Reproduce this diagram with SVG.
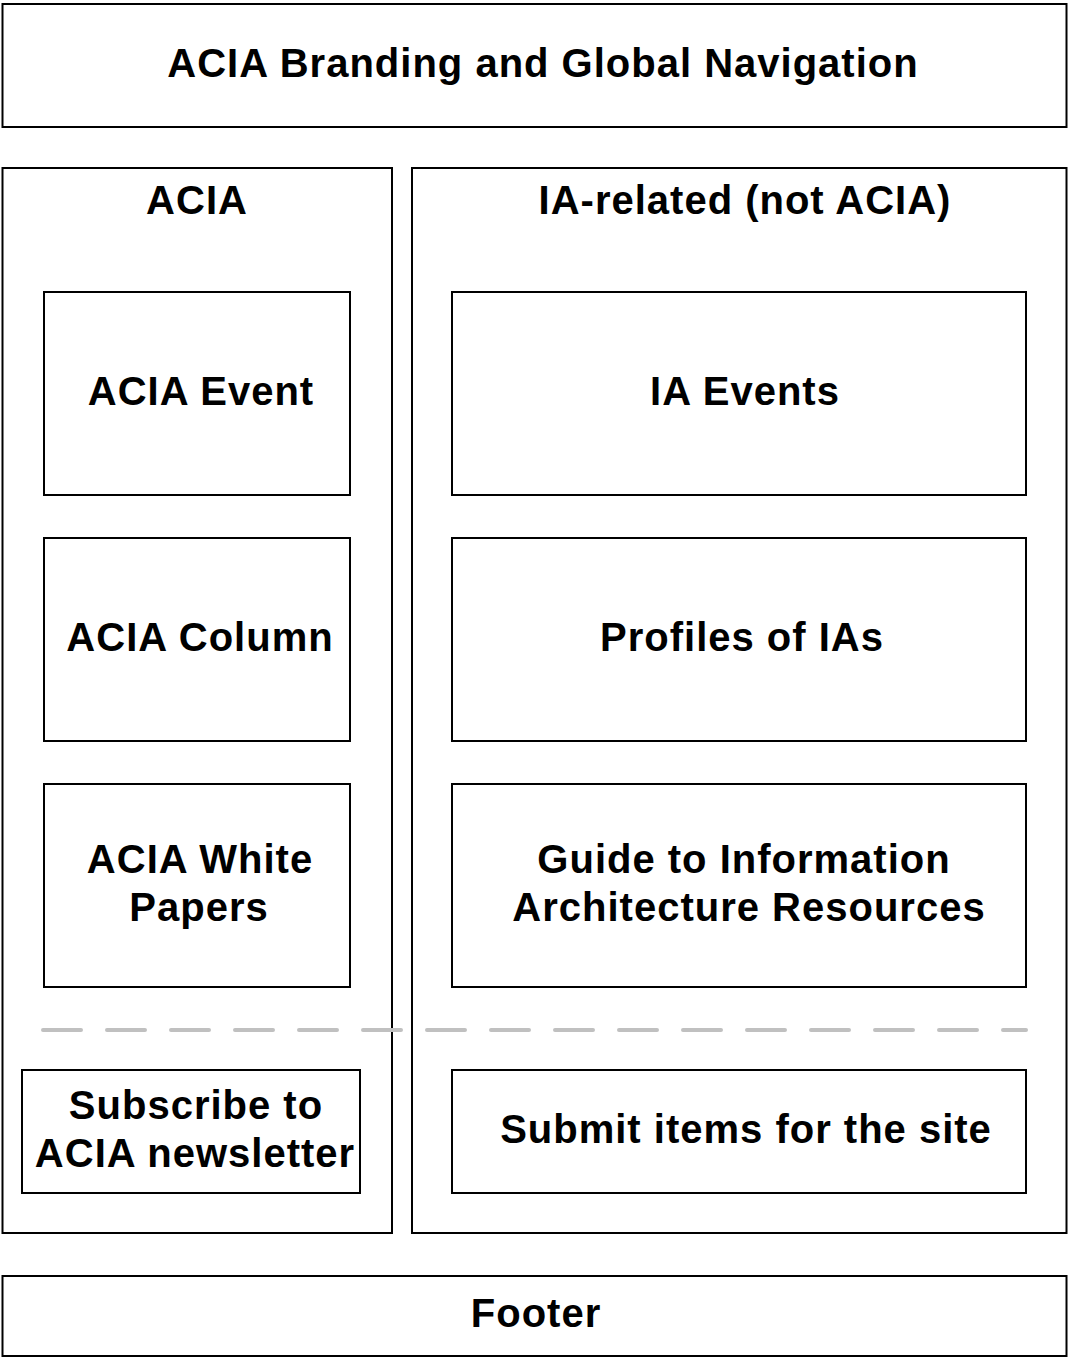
<svg xmlns="http://www.w3.org/2000/svg" width="1068" height="1358" viewBox="0 0 1068 1358">
<style>
.box{fill:#fff;stroke:#000;stroke-width:2}
.t{font-family:"Liberation Sans",Arial,sans-serif;font-weight:bold;font-size:40px;letter-spacing:1px;fill:#000;text-anchor:middle}
.dash{stroke:#c0c0c0;stroke-width:4;stroke-linecap:round;stroke-dasharray:38 26;fill:none}
</style>
<rect width="1068" height="1358" fill="#fff"/>
<g id="header"><rect class="box" x="2.5" y="4" width="1064" height="123"/><text class="t" x="543" y="77">ACIA Branding and Global Navigation</text></g>
<g id="acia-col"><rect class="box" x="2.5" y="168" width="389.5" height="1065"/><text class="t" x="197" y="214">ACIA</text></g>
<g id="ia-col"><rect class="box" x="412" y="168" width="654.5" height="1065"/><text class="t" x="745" y="214">IA-related (not ACIA)</text></g>
<g id="acia-event"><rect class="box" x="44" y="292" width="306" height="203"/><text class="t" x="201" y="405">ACIA Event</text></g>
<g id="acia-column"><rect class="box" x="44" y="538" width="306" height="203"/><text class="t" x="200" y="651">ACIA Column</text></g>
<g id="acia-white"><rect class="box" x="44" y="784" width="306" height="203"/><text class="t" x="200" y="873">ACIA White</text><text class="t" x="199" y="921">Papers</text></g>
<g id="ia-events"><rect class="box" x="452" y="292" width="574" height="203"/><text class="t" x="745" y="405">IA Events</text></g>
<g id="profiles"><rect class="box" x="452" y="538" width="574" height="203"/><text class="t" x="742" y="651">Profiles of IAs</text></g>
<g id="guide"><rect class="box" x="452" y="784" width="574" height="203"/><text class="t" x="744" y="873">Guide to Information</text><text class="t" x="749" y="921">Architecture Resources</text></g>
<g id="connectors"><line class="dash" x1="43" y1="1030" x2="1026" y2="1030"/></g>
<g id="subscribe"><rect class="box" x="22" y="1070" width="338" height="123"/><text class="t" x="196" y="1119">Subscribe to</text><text class="t" x="195" y="1167">ACIA newsletter</text></g>
<g id="submit"><rect class="box" x="452" y="1070" width="574" height="123"/><text class="t" x="746" y="1143">Submit items for the site</text></g>
<g id="footer"><rect class="box" x="2.5" y="1276" width="1064" height="80"/><text class="t" x="536" y="1327">Footer</text></g>
</svg>
